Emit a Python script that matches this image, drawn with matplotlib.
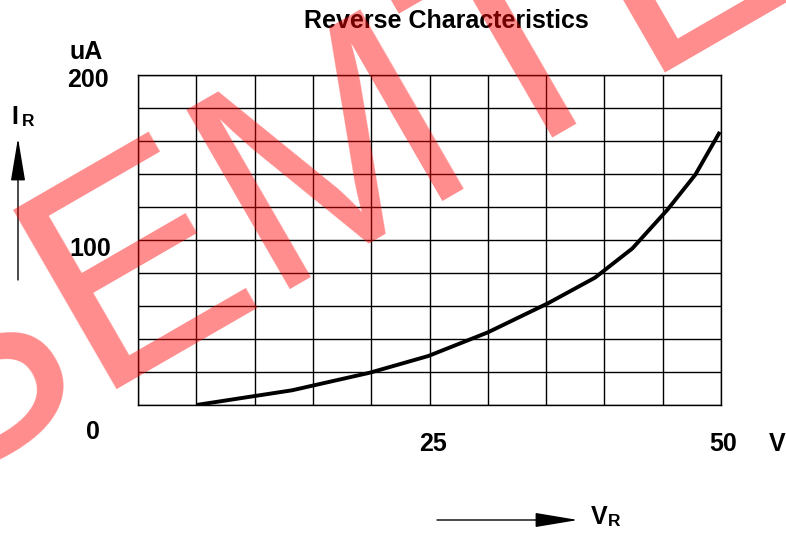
import matplotlib
matplotlib.use("Agg")
import matplotlib.pyplot as plt

# reverse voltage (V) vs reverse current (uA)
vr = [5, 13.2, 19.9, 24.9, 30, 35.2, 39.2, 42.4, 45.4, 47.8, 49.9]
ir = [0, 8.9, 19.6, 29.7, 44.0, 61.8, 77.2, 94.9, 118.3, 139.6, 165.5]

x_labels = ["25", "50", "V"]
x_label_pos = [25.3, 50.2, 54.8]
y_labels = ["0", "100", "200", "uA"]
y_label_pos = [-16.6, 94.5, 197, 214]
y_label_x = [-3.86, -4.1, -4.29, -4.46]

W, H = 786, 534
plt.rcParams["font.family"] = ["Liberation Sans", "DejaVu Sans"]

fig = plt.figure(figsize=(W / 100, H / 100), dpi=100)
ax = fig.add_axes([138 / W, 1 - 405 / H, 583 / W, 330 / H])

ax.set_xlim(0, 50)
ax.set_ylim(0, 200)
ax.set_xticks(range(0, 51, 5))
ax.set_yticks(range(0, 201, 20))
ax.tick_params(length=0, labelbottom=False, labelleft=False)
ax.grid(True, color="black", lw=1)
for s in ax.spines.values():
    s.set_color("black")
    s.set_linewidth(1)

ax.plot(vr, ir, color="black", lw=2.8, solid_capstyle="butt")

# axis numbers placed like the scanned sheet
for lab, xp in zip(x_labels, x_label_pos):
    ax.text(xp, -23.5, lab, ha="center", va="center", fontsize=18,
            fontweight="bold", clip_on=False)
for lab, yp, xp in zip(y_labels, y_label_pos, y_label_x):
    ax.text(xp, yp, lab, ha="center", va="center", fontsize=18,
            fontweight="bold", clip_on=False)

fig.text(446 / W, 1 - 21 / H, "Reverse Characteristics", ha="center",
         va="center", fontsize=18, fontweight="bold")

# IR / VR arrows
fig.text(14.5 / W, 1 - 117 / H, "I", ha="center", va="center", fontsize=18,
         fontweight="bold")
fig.text(28.5 / W, 1 - 121 / H, "R", ha="center", va="center", fontsize=12.5,
         fontweight="bold")
fig.text(599 / W, 1 - 517 / H, "V", ha="center", va="center", fontsize=18,
         fontweight="bold")
fig.text(614 / W, 1 - 521 / H, "R", ha="center", va="center", fontsize=12.5,
         fontweight="bold")

arrow = dict(arrowstyle="-|>,head_length=2.7,head_width=0.45",
             mutation_scale=10, color="black", lw=1, shrinkA=0, shrinkB=0)
ax.annotate("", xy=(18, H - 138), xytext=(18, H - 280),
            xycoords="figure pixels", textcoords="figure pixels",
            arrowprops=arrow, annotation_clip=False)
ax.annotate("", xy=(578, H - 520), xytext=(437, H - 520),
            xycoords="figure pixels", textcoords="figure pixels",
            arrowprops=arrow, annotation_clip=False)

# watermark
fig.text(-79 / W, 1 - 494 / H, "SEMTECH", rotation=30, rotation_mode="anchor",
         ha="left", va="baseline", fontsize=216, color="red", alpha=0.45,
         zorder=10)

fig.savefig("out.png", dpi=100)
